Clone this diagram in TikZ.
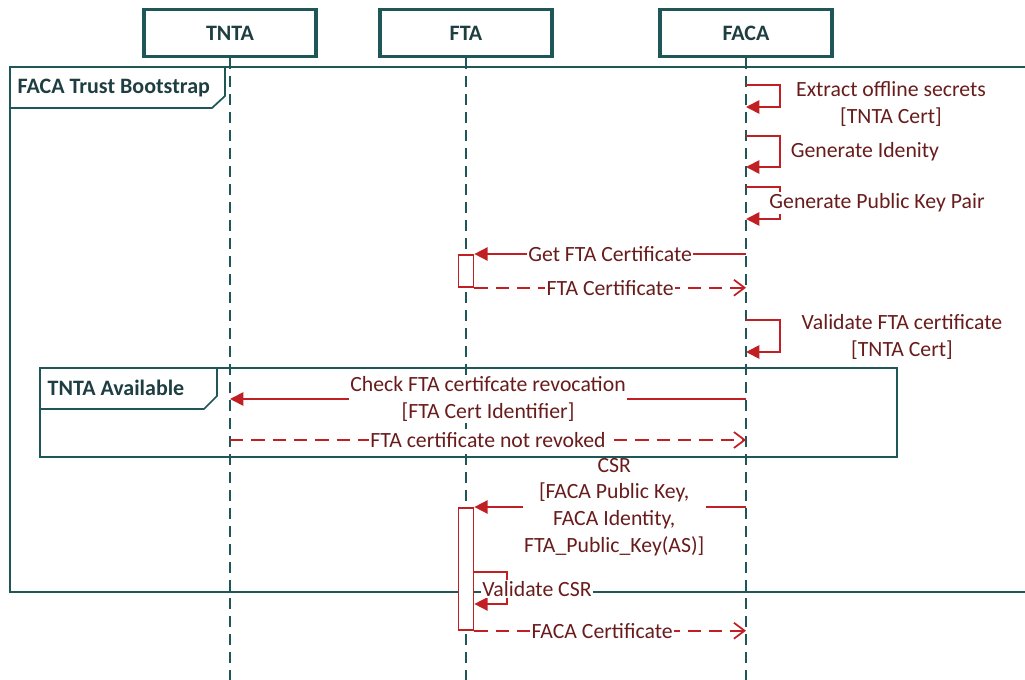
\documentclass[tikz,border=0pt]{standalone}
\usepackage{fontspec}
\setmainfont{Carlito}
\usetikzlibrary{arrows.meta,positioning,calc}
\definecolor{tealline}{RGB}{31,86,88}
\definecolor{tealtext}{RGB}{30,62,66}
\definecolor{msgred}{RGB}{192,32,36}
\definecolor{txtred}{RGB}{105,28,28}
\tikzset{
  head/.style={draw=tealline, line width=2.4pt, minimum width=129pt, minimum height=35pt,
    text=tealtext, font=\bfseries\fontsize{16.5}{18}\selectfont},
  life/.style={draw=tealline, line width=1.3pt, dash pattern=on 8.5pt off 5pt},
  frm/.style={draw=tealline, line width=1.3pt},
  ftitle/.style={text=tealtext, font=\bfseries\fontsize{16.5}{18}\selectfont, anchor=west},
  msg/.style={draw=msgred, line width=1.3pt, -{Triangle[length=10pt,width=10pt]}},
  ret/.style={msg, dash pattern=on 10pt off 6pt, -{Straight Barb[length=8pt,width=12pt]}},
  lbl/.style={text=txtred, fill=white, inner sep=1pt, align=center,
    font=\fontsize{16.3}{20}\selectfont},
  act/.style={draw=msgred, fill=white, line width=1.3pt, minimum width=11.25pt, inner sep=0pt, anchor=north},
}
\begin{document}
\begin{tikzpicture}[x=0.75pt,y=-0.75pt]
  \useasboundingbox (0,0) rectangle (1025,680);
  \node[head] (tnta) at (230,33) {TNTA};
  \node[head] (fta) at (466,33) {FTA};
  \node[head] (faca) at (746,33) {FACA};
  \foreach \n in {tnta,fta,faca}
    \draw[life] (\n.south) -- (\n |- 0,680);

  % outer frame
  \draw[frm] (10,67) rectangle (1032,592);
  \draw[frm] (10,108) -- (212,108) -- (225,96) -- (225,67);
  \node[ftitle] (boot) at (13,88) {FACA Trust Bootstrap};

  % FACA setup
  \draw[msg] (faca |- 0,85) -| (780,107) -- (faca |- 0,107);
  \node[lbl] (extract) at (891,104) {Extract offline secrets\\{}[TNTA Cert]};
  \draw[msg] (faca |- 0,136) -| (780,167) -- (faca |- 0,167);
  \node[lbl] (ident) at (865,152) {Generate Idenity};
  \draw[msg] (faca |- 0,187) -| (780,219) -- (faca |- 0,219);
  \node[lbl] (keys) at (877,203) {Generate Public Key Pair};

  % FTA certificate
  \node[act, minimum height=24pt] (act1) at (fta |- 0,254) {};
  \draw[msg] (faca |- act1.north) -- (act1.north east)
    node[lbl, midway] (getfta) {Get FTA Certificate};
  \draw[ret] (act1.south east) -- (faca |- act1.south)
    node[lbl, midway] (ftacert) {FTA Certificate};
  \draw[msg] (faca |- 0,320) -| (780,352) -- (faca |- 0,352);
  \node[lbl] (valfta) at (902,337) {Validate FTA certificate\\{}[TNTA Cert]};

  % CSR
  \node[act, minimum height=91.5pt] (act2) at (fta |- 0,507) {};
  \draw[msg] (faca |- act2.north) -- (act2.north east)
    node[lbl, midway, xshift=3pt] (csr) {CSR\\{}[FACA Public Key,\\FACA Identity,\\FTA\_Public\_Key(AS)]};
  \draw[msg] (act2.east |- 0,572) -| (507,604) -- (act2.east |- 0,604);
  \node[lbl] (valcsr) at (537,589) {Validate CSR};
  \draw[ret] (act2.south east) -- (faca |- act2.south)
    node[lbl, midway, xshift=-6pt] (facacert) {FACA Certificate};

  % revocation
  \draw[frm] (40,368) rectangle (897,457);
  \draw[frm] (40,409) -- (204,409) -- (217,396) -- (217,368);
  \node[ftitle] (avail) at (43,388) {TNTA Available};
  \draw[msg] (faca |- 0,399) -- (tnta |- 0,399)
    node[lbl, midway] (check) {Check FTA certifcate revocation\\{}[FTA Cert Identifier]};
  \draw[ret] (tnta |- 0,440) -- (faca |- 0,440)
    node[lbl, midway] (notrev) {FTA certificate not revoked};
\end{tikzpicture}
\end{document}
